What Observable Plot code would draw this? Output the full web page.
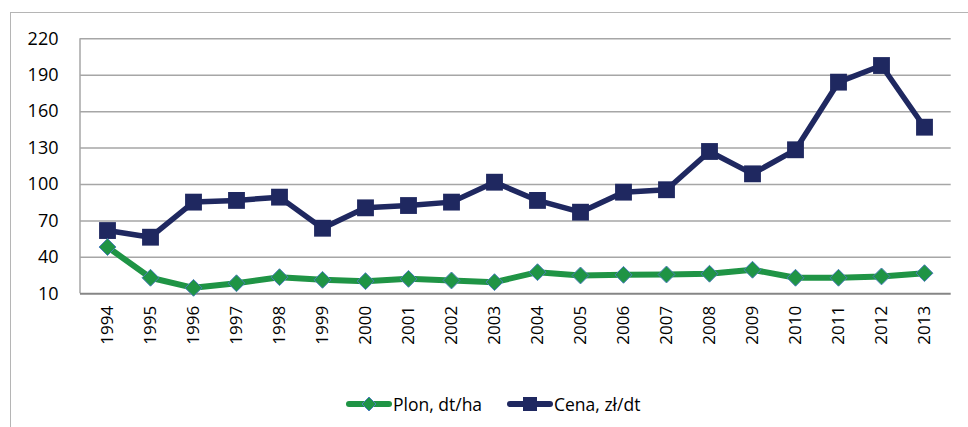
<!DOCTYPE html>
<html>
<head>
<meta charset="utf-8">
<script src="https://cdn.jsdelivr.net/npm/d3@7"></script>
<script src="https://cdn.jsdelivr.net/npm/@observablehq/plot@0.6"></script>
<style>
  html, body { margin: 0; padding: 0; background: #fff; }
  body { width: 968px; height: 427px; position: relative; overflow: hidden; font-family: "Open Sans", sans-serif; }
  #frame { position: absolute; left: 10px; top: 12px; width: 1000px; height: 430px; border-left: 1.5px solid #b5b5b5; border-top: 1.5px solid #b5b5b5; pointer-events: none; }
  #chart { position: absolute; left: 0; top: 0; }
  #chart svg text { font-family: "Open Sans", sans-serif !important; fill: #000 !important; }
  #chart g[aria-label="y-axis tick label"] text { font-size: 18px !important; }
  #chart g[aria-label="x-axis tick label"] text { font-size: 17px !important; }
  .leg { position: absolute; top: 392px; display: flex; align-items: center; font-size: 17.5px; color: #000; white-space: nowrap; }
  .leg svg { display: block; margin-right: 1px; }
</style>
</head>
<body>
<div id="chart"></div>
<div id="frame"></div>
<div class="leg" style="left:346px">
  <svg width="46" height="20"><line x1="3" y1="10" x2="43" y2="10" stroke="#1f9445" stroke-width="6" stroke-linecap="round"/><path d="M23,3 L30,10 L23,17 L16,10 Z" fill="#1f9445" stroke="#4a7ebb" stroke-width="1"/></svg>
  <span>Plon, dt/ha</span>
</div>
<div class="leg" style="left:507px">
  <svg width="46" height="20"><line x1="3" y1="10" x2="43" y2="10" stroke="#1f2860" stroke-width="6" stroke-linecap="round"/><rect x="16" y="3" width="14" height="14" fill="#1f2860"/></svg>
  <span>Cena, zł/dt</span>
</div>
<script>
const years = ["1994","1995","1996","1997","1998","1999","2000","2001","2002","2003","2004","2005","2006","2007","2008","2009","2010","2011","2012","2013"];
const plon = [48.5, 23.2, 14.9, 18.7, 23.7, 21.5, 20.4, 22.3, 21.0, 19.6, 27.8, 25.1, 25.6, 25.9, 26.5, 29.8, 23.2, 23.2, 24.3, 27.0];
const cena = [62.1, 56.6, 85.5, 86.9, 89.6, 64.0, 80.8, 82.7, 85.5, 101.9, 86.9, 77.2, 93.7, 95.7, 127.2, 108.8, 128.6, 184.3, 198.0, 147.2];
const yTicks = [10, 40, 70, 100, 130, 160, 190, 220];

const rows = years.map((y, i) => ({year: y, plon: plon[i], cena: cena[i]}));

const leftAxisLine = (index, scales, values, dims) => {
  const ns = "http://www.w3.org/2000/svg";
  const l = document.createElementNS(ns, "line");
  const x = dims.marginLeft;
  l.setAttribute("x1", x); l.setAttribute("x2", x);
  l.setAttribute("y1", scales.y(yTicks[yTicks.length - 1]));
  l.setAttribute("y2", scales.y(yTicks[0]));
  l.setAttribute("stroke", "#a6a6a6");
  l.setAttribute("stroke-width", 1.5);
  return l;
};

const chart = Plot.plot({
  width: 968,
  height: 360,
  marginLeft: 80,
  marginRight: 17.3,
  marginTop: 38.3,
  marginBottom: 66.7,
  style: { fontFamily: "Open Sans, sans-serif", fontSize: "18px", color: "#000", background: "transparent" },
  x: { type: "point", domain: years, padding: 0.5 },
  y: { domain: [10, 220] },
  marks: [
    Plot.ruleY(yTicks.slice(1), { stroke: "#a6a6a6", strokeWidth: 1.5 }),
    leftAxisLine,
    Plot.ruleY([yTicks[0]], { stroke: "#868686", strokeWidth: 2 }),
    Plot.axisY({ ticks: yTicks, tickSize: 0, tickPadding: 22, label: null, fontSize: 18, fill: "#000" }),
    Plot.axisX({ tickRotate: -90, tickSize: 0, tickPadding: 12, label: null, fontSize: 17, fill: "#000" }),
    Plot.line(rows, { x: "year", y: "cena", stroke: "#1f2860", strokeWidth: 5.5, strokeLinejoin: "round" }),
    Plot.dot(rows, { x: "year", y: "cena", symbol: "square", r: 9.5, fill: "#1f2860", stroke: "none" }),
    Plot.line(rows, { x: "year", y: "plon", stroke: "#1f9445", strokeWidth: 6, strokeLinejoin: "round" }),
    Plot.dot(rows, { x: "year", y: "plon", symbol: "diamond2", r: 7.6, fill: "#1f9445", stroke: "#4a7ebb", strokeWidth: 1 })
  ]
});
document.getElementById("chart").appendChild(chart);
</script>
</body>
</html>
